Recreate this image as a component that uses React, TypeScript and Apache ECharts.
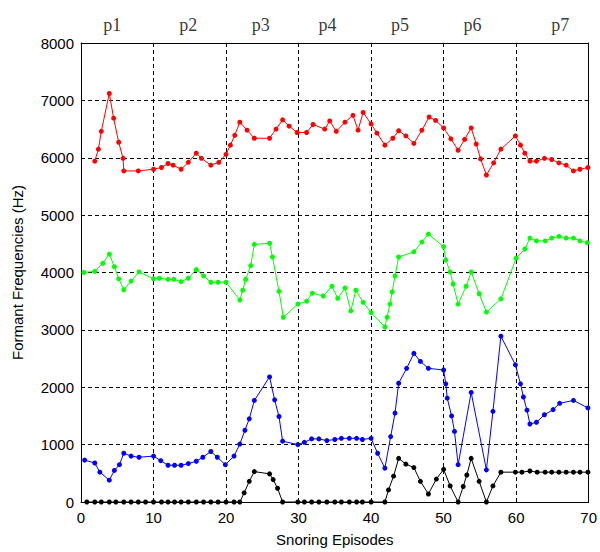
import React, { useEffect, useRef } from "react";
import * as echarts from "echarts";

// Phase labels along the top
const phaseLabels = ["p1", "p2", "p3", "p4", "p5", "p6", "p7"];
const phaseX = [4.3, 14.8, 24.8, 34.0, 44.0, 54.0, 66.1];

// Axis ticks
const xTicks = [0, 10, 20, 30, 40, 50, 60, 70];
const yTicks = [0, 1000, 2000, 3000, 4000, 5000, 6000, 7000, 8000];

// Red formant (F4)
const redX = [1.9, 2.4, 2.8, 3.9, 4.5, 5.2, 5.8, 5.9, 7.9, 10, 11.1, 12, 12.7, 13.8, 14.8, 15.9, 16.6, 17.9, 19, 20, 20.6, 21.2, 21.9, 22.9, 23.9, 26, 26.9, 27.8, 28.7, 29.8, 31.1, 32, 33.6, 34.3, 35.2, 36.4, 37.5, 38.2, 38.9, 40, 40.8, 41.9, 43, 43.8, 44.8, 45.9, 47, 48, 48.9, 50, 51, 52, 52.9, 53.8, 54.5, 55.1, 55.9, 56.9, 57.9, 59.9, 60.6, 61.2, 61.9, 62.8, 63.9, 64.9, 65.9, 66.9, 67.9, 68.8, 69.9];
const redY = [5940, 6150, 6460, 7120, 6690, 6270, 5990, 5770, 5770, 5800, 5830, 5900, 5870, 5800, 5920, 6080, 5990, 5870, 5920, 6060, 6220, 6390, 6620, 6480, 6340, 6340, 6500, 6660, 6550, 6440, 6440, 6580, 6500, 6640, 6460, 6620, 6740, 6480, 6790, 6590, 6430, 6220, 6340, 6470, 6380, 6250, 6480, 6710, 6650, 6520, 6330, 6130, 6320, 6520, 6240, 5980, 5700, 5910, 6150, 6380, 6220, 6080, 5940, 5940, 5990, 5970, 5910, 5870, 5770, 5800, 5830];

// Green formant (F3)
const greenX = [0.4, 1.9, 3, 3.9, 4.6, 5.2, 5.9, 6.9, 8, 10, 10.8, 12, 12.8, 13.8, 14.8, 15.9, 16.9, 17.9, 18.9, 20, 21.9, 22.3, 22.7, 23.4, 23.9, 26, 26.4, 27.3, 27.9, 29.9, 31.1, 31.9, 33.4, 34.6, 35.4, 36.4, 37.2, 37.9, 38.9, 40, 41.9, 42.2, 42.6, 42.9, 43.3, 43.8, 45.9, 47, 47.9, 50, 50.3, 50.9, 51.3, 52, 53.1, 53.8, 54.9, 55.9, 57.9, 60, 61.2, 61.9, 62.8, 64, 64.9, 65.9, 66.9, 67.9, 68.8, 69.8];
const greenY = [4000, 4020, 4160, 4320, 4100, 3890, 3700, 3850, 4010, 3890, 3900, 3880, 3880, 3840, 3900, 4050, 3940, 3830, 3830, 3830, 3520, 3690, 3880, 4120, 4490, 4510, 4270, 3670, 3220, 3450, 3500, 3640, 3590, 3760, 3550, 3730, 3330, 3690, 3480, 3300, 3050, 3220, 3450, 3660, 3940, 4270, 4360, 4530, 4670, 4450, 4220, 4010, 3800, 3450, 3760, 4010, 3630, 3310, 3540, 4250, 4410, 4600, 4550, 4550, 4600, 4630, 4600, 4600, 4550, 4520];

// Blue formant (F2)
const blueX = [0.5, 1.9, 2.6, 3.9, 4.6, 5.3, 5.9, 6.9, 8, 10, 11, 12, 12.9, 13.8, 14.8, 15.9, 16.8, 17.9, 18.8, 19.9, 21.1, 21.9, 22.6, 23.2, 23.9, 26, 26.7, 27.3, 27.8, 29.9, 30.8, 31.8, 32.8, 33.9, 35, 35.9, 37, 38, 38.8, 40, 40.9, 41.9, 42.7, 43.3, 43.8, 44.9, 45.9, 46.8, 47.9, 50, 50.3, 50.5, 51.1, 51.5, 52, 53.8, 55.9, 56.8, 57.9, 59.9, 60.6, 61, 61.5, 61.9, 62.8, 63.9, 65.1, 66, 67.9, 69.9];
const blueY = [730, 680, 520, 380, 550, 650, 850, 800, 780, 800, 720, 640, 640, 640, 670, 710, 780, 880, 780, 650, 800, 1010, 1250, 1450, 1770, 2180, 1780, 1490, 1060, 1000, 1040, 1100, 1100, 1070, 1090, 1110, 1110, 1110, 1090, 1110, 850, 590, 1140, 1550, 2070, 2330, 2590, 2450, 2330, 2300, 2060, 1810, 1500, 1230, 650, 1910, 560, 1580, 2890, 2390, 2060, 1830, 1600, 1360, 1390, 1520, 1610, 1720, 1770, 1640];

// Black formant (F1)
const blackX = [0.8, 1.9, 2.8, 3.9, 4.8, 5.9, 6.9, 7.9, 8.9, 10, 11.1, 12, 12.9, 13.8, 14.8, 15.9, 16.9, 17.9, 18.9, 20, 21.1, 21.9, 22.5, 23.2, 23.9, 26, 26.5, 27.1, 27.8, 29.9, 30.8, 31.8, 32.8, 33.9, 35, 35.9, 37, 38, 38.8, 40, 41.9, 42.4, 43.1, 43.8, 44.8, 45.9, 46.8, 47.9, 49, 50, 50.9, 52, 52.7, 53.2, 53.8, 54.9, 55.9, 56.8, 57.9, 59.9, 60.8, 61.9, 62.9, 64, 64.9, 65.9, 66.9, 67.9, 68.8, 69.9];
const blackY = [0, 0, 0, 0, 0, 0, 0, 0, 0, 0, 0, 0, 0, 0, 0, 0, 0, 0, 0, 0, 0, 0, 160, 360, 530, 490, 390, 240, 0, 0, 0, 0, 0, 0, 0, 0, 0, 0, 0, 0, 0, 210, 450, 760, 660, 600, 360, 140, 400, 570, 280, 0, 270, 470, 760, 360, 0, 280, 520, 520, 520, 540, 520, 520, 520, 520, 520, 520, 520, 520];

const zip = (xs: number[], ys: number[]) => xs.map((x, i) => [x, ys[i]]);

const FONT = "'Liberation Sans', Arial, sans-serif";

function lineSeries(name: string, color: string, xs: number[], ys: number[]) {
  return {
    name,
    type: "line",
    data: zip(xs, ys),
    symbol: "circle",
    symbolSize: 5,
    showSymbol: true,
    lineStyle: { color, width: 1 },
    itemStyle: { color },
    z: 3,
  };
}

export default function App() {
  const ref = useRef<HTMLDivElement>(null);

  useEffect(() => {
    document.body.style.margin = "0";
    if (!ref.current) return;
    const chart = echarts.init(ref.current, undefined, { renderer: "svg" });
    const splitDash = { show: true, lineStyle: { color: "#000", type: [4, 3], width: 1 } };
    const plain = (v: number) => String(v);
    chart.setOption({
      animation: false,
      backgroundColor: "#fff",
      grid: { left: 81, right: 8, top: 43, bottom: 50, show: false },
      xAxis: [
        {
          type: "value",
          min: xTicks[0],
          max: xTicks[xTicks.length - 1],
          interval: 10,
          position: "bottom",
          name: "Snoring Episodes",
          nameLocation: "middle",
          nameGap: 30,
          nameTextStyle: { fontFamily: FONT, fontSize: 15, color: "#000" },
          axisLine: { show: true, onZero: false, lineStyle: { color: "#000", width: 1 } },
          axisTick: { show: true, inside: true, length: 4, lineStyle: { color: "#000" } },
          axisLabel: { fontFamily: FONT, fontSize: 15, color: "#000", margin: 8, formatter: plain },
          splitLine: splitDash,
        },
        {
          type: "value",
          min: xTicks[0],
          max: xTicks[xTicks.length - 1],
          interval: 10,
          position: "top",
          axisLine: { show: true, onZero: false, lineStyle: { color: "#000", width: 1 } },
          axisTick: { show: true, inside: true, length: 4, lineStyle: { color: "#000" } },
          axisLabel: { show: false },
          splitLine: { show: false },
        },
      ],
      yAxis: [
        {
          type: "value",
          min: yTicks[0],
          max: yTicks[yTicks.length - 1],
          interval: 1000,
          position: "left",
          name: "Formant Frequencies (Hz)",
          nameLocation: "middle",
          nameGap: 56,
          nameTextStyle: { fontFamily: FONT, fontSize: 15, color: "#000" },
          axisLine: { show: true, onZero: false, lineStyle: { color: "#000", width: 1 } },
          axisTick: { show: true, inside: true, length: 4, lineStyle: { color: "#000" } },
          axisLabel: { fontFamily: FONT, fontSize: 15, color: "#000", margin: 7, formatter: plain },
          splitLine: splitDash,
        },
        {
          type: "value",
          min: yTicks[0],
          max: yTicks[yTicks.length - 1],
          interval: 1000,
          position: "right",
          axisLine: { show: true, onZero: false, lineStyle: { color: "#000", width: 1 } },
          axisTick: { show: true, inside: true, length: 4, lineStyle: { color: "#000" } },
          axisLabel: { show: false },
          splitLine: { show: false },
        },
      ],
      series: [
        lineSeries("F4", "#ff0000", redX, redY),
        lineSeries("F3", "#00ff00", greenX, greenY),
        lineSeries("F2", "#0000ff", blueX, blueY),
        lineSeries("F1", "#000000", blackX, blackY),
        {
          name: "phases",
          type: "scatter",
          symbolSize: 0,
          silent: true,
          clip: false,
          data: phaseX.map((x, i) => ({ value: [x, yTicks[yTicks.length - 1]], name: phaseLabels[i] })),
          label: {
            show: true,
            position: "top",
            distance: 9,
            formatter: (p: any) => p.name,
            fontFamily: "'Liberation Serif', 'Times New Roman', serif",
            fontSize: 18,
            color: "#000",
          },
        },
      ],
    });
    return () => chart.dispose();
  }, []);

  return <div ref={ref} style={{ width: 600, height: 552 }} />;
}
